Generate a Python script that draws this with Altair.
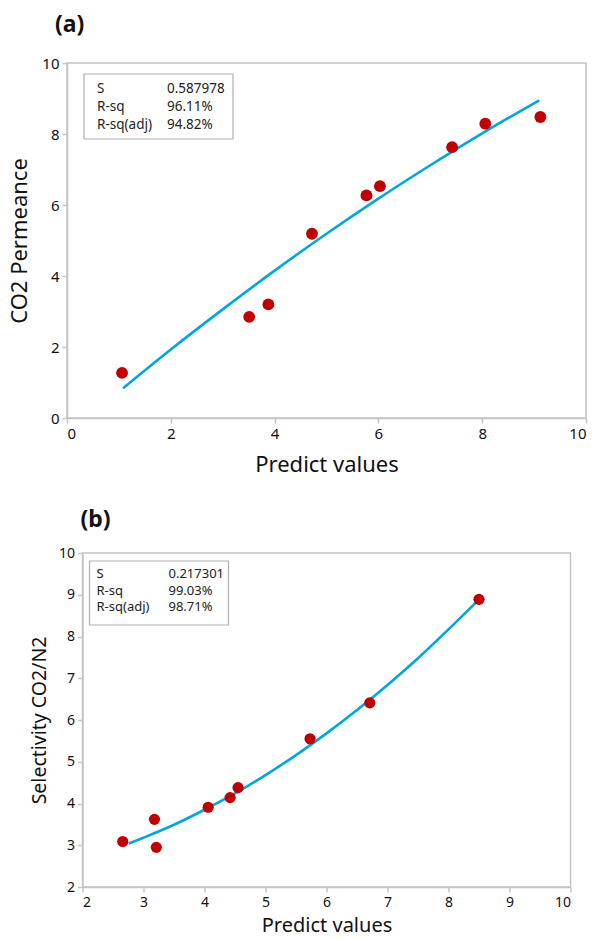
import altair as alt
import pandas as pd

# ---------------- data ----------------
# Panel (a): CO2 Permeance vs predicted values
a_pred = [1.06, 3.51, 3.88, 4.72, 5.77, 6.03, 7.42, 8.06, 9.12]
a_obs = [1.27, 2.85, 3.20, 5.19, 6.27, 6.53, 7.63, 8.29, 8.48]
a_fit_x = [1.08, 2.0, 3.0, 4.0, 5.0, 6.0, 7.0, 8.0, 9.10]
a_fit_y = [0.84, 1.93, 3.06, 4.15, 5.19, 6.18, 7.12, 8.02, 8.95]
a_stat_labels = ["S", "R-sq", "R-sq(adj)"]
a_stat_values = ["0.587978", "96.11%", "94.82%"]

# Panel (b): Selectivity CO2/N2 vs predicted values
b_pred = [2.66, 3.18, 3.21, 4.06, 4.42, 4.55, 5.73, 6.71, 8.50]
b_obs = [3.09, 3.62, 2.95, 3.91, 4.14, 4.38, 5.55, 6.41, 8.89]
b_fit_x = [2.76, 3.0, 3.5, 4.0, 4.5, 5.0, 5.5, 6.0, 6.5, 7.0, 7.5, 8.0, 8.5]
b_fit_y = [3.04, 3.18, 3.49, 3.85, 4.24, 4.68, 5.16, 5.68, 6.24, 6.84, 7.48, 8.17, 8.89]
b_stat_labels = ["S", "R-sq", "R-sq(adj)"]
b_stat_values = ["0.217301", "99.03%", "98.71%"]

a_xticks = [0, 2, 4, 6, 8, 10]
a_yticks = [0, 2, 4, 6, 8, 10]
b_xticks = [2, 3, 4, 5, 6, 7, 8, 9, 10]
b_yticks = [2, 3, 4, 5, 6, 7, 8, 9, 10]

FONT = "Noto Sans"
RED = "#C00000"
BLUE = "#00A6DC"
GREY = "#C4C4C4"


def panel(pred, obs, fx, fy, xdom, ydom, xticks, yticks, ytitle, title,
          w, h, box, rows_y0, row_h, lab_x, val_x, labels, values,
          title_dx, title_offset, label_size, xt_size, xt_pad, yt_size, yt_pad,
          pt_size, stat_size):
    pts = pd.DataFrame({"pred": pred, "obs": obs})
    fit = pd.DataFrame({"pred": fx, "obs": fy})
    xenc = alt.X("pred:Q", title="Predict values",
                 scale=alt.Scale(domain=xdom, nice=False, zero=False),
                 axis=alt.Axis(values=xticks, grid=False, format="d",
                               labelFontSize=label_size, titleFontSize=xt_size,
                               titlePadding=xt_pad))
    yenc = alt.Y("obs:Q", title=ytitle,
                 scale=alt.Scale(domain=ydom, nice=False, zero=False),
                 axis=alt.Axis(values=yticks, grid=False, format="d",
                               labelFontSize=label_size, titleFontSize=yt_size,
                               titlePadding=yt_pad))
    line = alt.Chart(fit).mark_line(color=BLUE, strokeWidth=2.6,
                                    interpolate="monotone").encode(x=xenc, y=yenc)
    dots = alt.Chart(pts).mark_circle(color=RED, opacity=1, size=pt_size).encode(
        x="pred:Q", y="obs:Q")
    stat = pd.DataFrame({"k": [0]})
    rect = alt.Chart(stat).mark_rect(fill="white", stroke="#B0B0B0",
                                     strokeWidth=1.2).encode(
        x=alt.value(box[0]), x2=alt.value(box[1]),
        y=alt.value(box[2]), y2=alt.value(box[3]))
    txt_l = alt.Chart(stat).mark_text(
        align="left", baseline="middle", font=FONT, fontSize=stat_size, color="#222",
        lineBreak="\n", lineHeight=row_h).encode(
        x=alt.value(lab_x), y=alt.value(rows_y0),
        text=alt.value("\n".join(labels)))
    txt_v = alt.Chart(stat).mark_text(
        align="left", baseline="middle", font=FONT, fontSize=stat_size, color="#222",
        lineBreak="\n", lineHeight=row_h).encode(
        x=alt.value(val_x), y=alt.value(rows_y0),
        text=alt.value("\n".join(values)))
    return alt.layer(line, dots, rect, txt_l, txt_v).properties(
        width=w, height=h,
        title=alt.TitleParams(title, anchor="start", frame="group",
                              fontSize=23, fontWeight="bold", font=FONT,
                              color="#111", dx=title_dx, offset=title_offset))


pa = panel(a_pred, a_obs, a_fit_x, a_fit_y, [0, 10], [0, 10], a_xticks, a_yticks,
           "CO2 Permeance", "(a)", 519, 355, (17, 166, 11, 76), 26, 18, 30, 100,
           a_stat_labels, a_stat_values, -12, 19,
           15, 22, 13, 22, 10, 140, 13.5)
pb = panel(b_pred, b_obs, b_fit_x, b_fit_y, [2, 10], [2, 10], b_xticks, b_yticks,
           "Selectivity CO2/N2", "(b)", 488, 334, (7, 146, 8, 72), 21, 16.7, 14, 86,
           b_stat_labels, b_stat_values, -2, 14,
           14, 20, 6, 19.5, 9, 125, 13)

chart = alt.vconcat(pa, pb, spacing=135, center=True, bounds="flush").properties(
    padding={"left": 8, "top": 13, "right": 0, "bottom": 0}
).configure(background="white").configure_view(
    stroke=GREY, strokeWidth=1.5
).configure_axis(
    domainColor=GREY, domainWidth=1.5, tickColor=GREY, tickWidth=1.5, tickSize=5,
    labelFont=FONT, labelColor="#111", labelPadding=3,
    titleFont=FONT, titleFontWeight="normal", titleColor="#111"
)

chart.save("out.html", embed_options={"renderer": "svg", "actions": False})
